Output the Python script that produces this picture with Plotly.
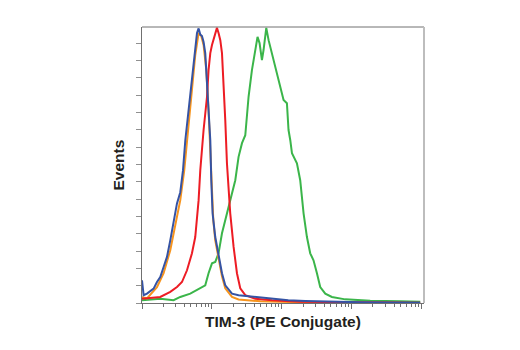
import numpy as np
import plotly.graph_objects as go

# log10 fluorescence intensity and event counts
orange_log = [0.0, 0.071, 0.214, 0.309, 0.404, 0.451, 0.523, 0.547, 0.604, 0.661, 0.719, 0.761, 0.809,
              0.847, 0.88, 0.919, 0.951, 0.976, 0.997, 1.019, 1.047, 1.094, 1.143, 1.19, 1.286, 1.38,
              1.69, 2.261, 3.69]
orange_cnt = [3.3, 2.7, 9.2, 17.2, 30.5, 40.3, 53.6, 59.4, 76.7, 99.9, 122.9, 143.2, 155.9,
              154.2, 149.0, 134.5, 111.4, 88.3, 65.1, 47.8, 36.2, 27.0, 15.4, 8.5, 3.5, 2.0,
              1.0, 0.4, 0.1]

blue_log = [0.0, 0.023, 0.071, 0.166, 0.214, 0.261, 0.309, 0.357, 0.404, 0.451, 0.5, 0.547, 0.586,
            0.619, 0.69, 0.761, 0.786, 0.809, 0.833, 0.857, 0.88, 0.904, 0.951, 0.976, 0.99, 1.009,
            1.047, 1.094, 1.143, 1.19, 1.286, 1.38, 1.619, 1.857, 2.09, 2.333, 2.69, 3.119, 3.976]
blue_cnt = [13.1, 4.5, 5.4, 8.3, 12.1, 15.0, 20.8, 26.6, 36.2, 45.9, 57.5, 64.0, 76.7,
            94.0, 120.1, 149.0, 155.9, 158.6, 155.0, 154.2, 150.7, 144.3, 113.1, 94.0, 70.9, 51.8,
            38.1, 28.7, 17.2, 10.2, 5.4, 4.5, 3.5, 2.5, 1.6, 1.2, 0.7, 0.4, 0.1]

red_log = [0.0, 0.261, 0.404, 0.5, 0.571, 0.643, 0.714, 0.761, 0.809, 0.833, 0.88, 0.929, 0.951,
           0.976, 1.0, 1.023, 1.047, 1.071, 1.094, 1.119, 1.143, 1.166, 1.19, 1.214, 1.261, 1.309,
           1.357, 1.404, 1.476, 1.619, 1.857, 2.261, 2.976, 3.976]
red_cnt = [2.5, 3.5, 6.4, 9.2, 12.1, 18.9, 28.7, 38.1, 59.4, 76.7, 99.9, 119.1, 134.5,
           144.3, 149.0, 151.8, 154.7, 158.9, 155.9, 151.8, 144.3, 128.7, 105.6, 80.7, 51.8, 32.4,
           17.2, 8.5, 4.5, 2.5, 1.6, 0.7, 0.4, 0.1]

green_log = [0.0, 0.261, 0.451, 0.547, 0.69, 0.833, 0.904, 0.951, 1.0, 1.047, 1.094, 1.143, 1.19,
             1.237, 1.286, 1.333, 1.38, 1.429, 1.476, 1.523, 1.571, 1.619, 1.651, 1.68, 1.714, 1.737,
             1.776, 1.809, 1.857, 1.929, 1.976, 2.023, 2.071, 2.094, 2.119, 2.143, 2.214, 2.261,
             2.309, 2.357, 2.404, 2.451, 2.5, 2.547, 2.619, 2.714, 2.904, 3.261, 3.69, 3.976]
green_cnt = [1.6, 2.5, 1.6, 3.5, 5.4, 8.3, 10.2, 17.2, 22.9, 23.7, 28.7, 40.3, 47.8,
             55.5, 63.4, 70.9, 84.4, 92.3, 96.9, 119.1, 134.5, 146.1, 153.7, 150.1, 140.3, 146.1,
             158.9, 151.8, 144.3, 132.7, 124.8, 117.2, 115.4, 99.9, 94.0, 86.5, 80.7, 70.9,
             51.8, 38.1, 28.7, 24.7, 17.2, 9.2, 5.4, 3.5, 2.1, 1.3, 1.0, 0.7]

major_ticks = [1, 10, 100, 1000, 10000]
minor_digits = [2, 3, 4, 5, 6, 7, 8, 9]
y_ticks = list(range(0, 160, 10))

x_title = "TIM-3 (PE Conjugate)"
y_title = "Events"

series = [
    (green_log, green_cnt, "#3BB54A"),
    (orange_log, orange_cnt, "#F7941D"),
    (red_log, red_cnt, "#ED1C24"),
    (blue_log, blue_cnt, "#3553A4"),
]

fig = go.Figure()
for lg, cnt, col in series:
    fig.add_trace(go.Scatter(x=np.power(10.0, lg), y=cnt, mode="lines",
                             line=dict(color=col, width=2), hoverinfo="skip", showlegend=False))

minor_vals = [m * d for d in major_ticks[:-1] for m in minor_digits]

title_font = dict(family="Liberation Sans, Arial, sans-serif", size=15.5, color="#231F20")

fig.update_layout(
    width=520, height=350,
    margin=dict(l=142, r=96, t=27, b=47),
    paper_bgcolor="white", plot_bgcolor="white",
    xaxis=dict(type="log", range=[0, 4.03], showgrid=False, zeroline=False,
               showline=True, linecolor="#707070", linewidth=1,
               tickmode="array", tickvals=major_ticks, ticktext=[""] * len(major_ticks),
               ticks="outside", ticklen=5, tickcolor="#707070", tickwidth=1,
               minor=dict(tickmode="array", tickvals=minor_vals, ticks="outside",
                          ticklen=3, tickcolor="#707070", tickwidth=1, showgrid=False)),
    yaxis=dict(range=[0, 159.4], showgrid=False, zeroline=False,
               showline=True, linecolor="#707070", linewidth=1,
               tickmode="array", tickvals=y_ticks, ticktext=[""] * len(y_ticks),
               ticks="outside", ticklen=5, tickcolor="#909090", tickwidth=1),
    shapes=[
        dict(type="line", xref="paper", yref="paper", x0=0, x1=1, y0=1, y1=1,
             line=dict(color="#707070", width=1)),
        dict(type="line", xref="paper", yref="paper", x0=1, x1=1, y0=0, y1=1,
             line=dict(color="#BDBDBD", width=2)),
    ],
    annotations=[
        dict(text="<b>" + x_title + "</b>", xref="paper", yref="paper", x=0.5, y=0,
             yshift=-8, xanchor="center", yanchor="top", showarrow=False, font=title_font),
        dict(text="<b>" + y_title + "</b>", xref="paper", yref="paper", x=0, y=0.5,
             xshift=-24.5, xanchor="center", yanchor="middle", textangle=-90, showarrow=False,
             font=title_font),
    ],
)

fig.write_html("out.html")
